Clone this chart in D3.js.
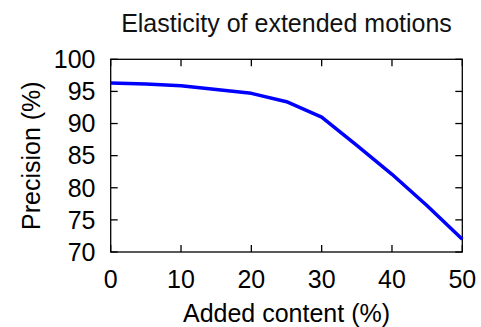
<!DOCTYPE html>
<html>
<head>
<meta charset="utf-8">
<script src="https://cdn.jsdelivr.net/npm/d3@7"></script>
<style>
  html, body { margin:0; padding:0; background:#fff; }
  svg { display:block; font-family:"Liberation Sans", Arial, Helvetica, sans-serif; }
  .lbl { font-size:25px; fill:#000; }
</style>
</head>
<body>
<svg id="chart" width="481" height="327"></svg>
<script>
// data
const added     = [0, 5, 10, 15, 20, 25, 30, 35, 40, 45, 50];
const precision = [96.3, 96.15, 95.9, 95.3, 94.7, 93.4, 91.0, 86.6, 82.1, 77.2, 72.0];
const xTicks = [0, 10, 20, 30, 40, 50];
const yTicks = [70, 75, 80, 85, 90, 95, 100];

const W = 481, H = 327;
const m = { left:110.7, right:W - 462.3, top:59.3, bottom:H - 252 };

const svg = d3.select('#chart');
const x = d3.scaleLinear().domain([0, 50]).range([m.left, W - m.right]);
const y = d3.scaleLinear().domain([70, 100]).range([H - m.bottom, m.top]);

const tickLen = 7;

// frame
svg.append('rect')
  .attr('x', x(0)).attr('y', y(100))
  .attr('width', x(50) - x(0)).attr('height', y(70) - y(100))
  .attr('fill', 'none').attr('stroke', '#000').attr('stroke-width', 1.3);

// inward ticks on all four sides (gnuplot style mirror)
const tg = svg.append('g').attr('stroke', '#000').attr('stroke-width', 1.3);
xTicks.forEach(v => {
  tg.append('line').attr('x1', x(v)).attr('x2', x(v)).attr('y1', y(70)).attr('y2', y(70) - tickLen);
  tg.append('line').attr('x1', x(v)).attr('x2', x(v)).attr('y1', y(100)).attr('y2', y(100) + tickLen);
});
yTicks.forEach(v => {
  tg.append('line').attr('x1', x(0)).attr('x2', x(0) + tickLen).attr('y1', y(v)).attr('y2', y(v));
  tg.append('line').attr('x1', x(50)).attr('x2', x(50) - tickLen).attr('y1', y(v)).attr('y2', y(v));
});

// tick labels
svg.append('g').selectAll('text').data(xTicks).join('text')
  .attr('class', 'lbl')
  .attr('x', d => x(d)).attr('y', 287.5)
  .attr('text-anchor', 'middle')
  .text(d => d);

svg.append('g').selectAll('text').data(yTicks).join('text')
  .attr('class', 'lbl')
  .attr('x', 95.5).attr('y', d => y(d) + 8.8)
  .attr('text-anchor', 'end')
  .text(d => d);

// axis titles
svg.append('text').attr('class', 'lbl')
  .attr('x', (x(0) + x(50)) / 2).attr('y', 321.5)
  .attr('text-anchor', 'middle')
  .text('Added content (%)');

svg.append('text').attr('class', 'lbl')
  .attr('transform', 'translate(39.5,' + ((y(70) + y(100)) / 2) + ') rotate(-90)')
  .attr('text-anchor', 'middle')
  .text('Precision (%)');

svg.append('text').attr('class', 'lbl')
  .attr('x', (x(0) + x(50)) / 2).attr('y', 31.5)
  .attr('text-anchor', 'middle')
  .style('fill', '#111')
  .text('Elasticity of extended motions');

// the series
const line = d3.line().x((d, i) => x(added[i])).y(d => y(d));
svg.append('path')
  .datum(precision)
  .attr('d', line)
  .attr('fill', 'none')
  .attr('stroke', '#0000ff')
  .attr('stroke-width', 3.5)
  .attr('stroke-linejoin', 'round');
</script>
</body>
</html>
